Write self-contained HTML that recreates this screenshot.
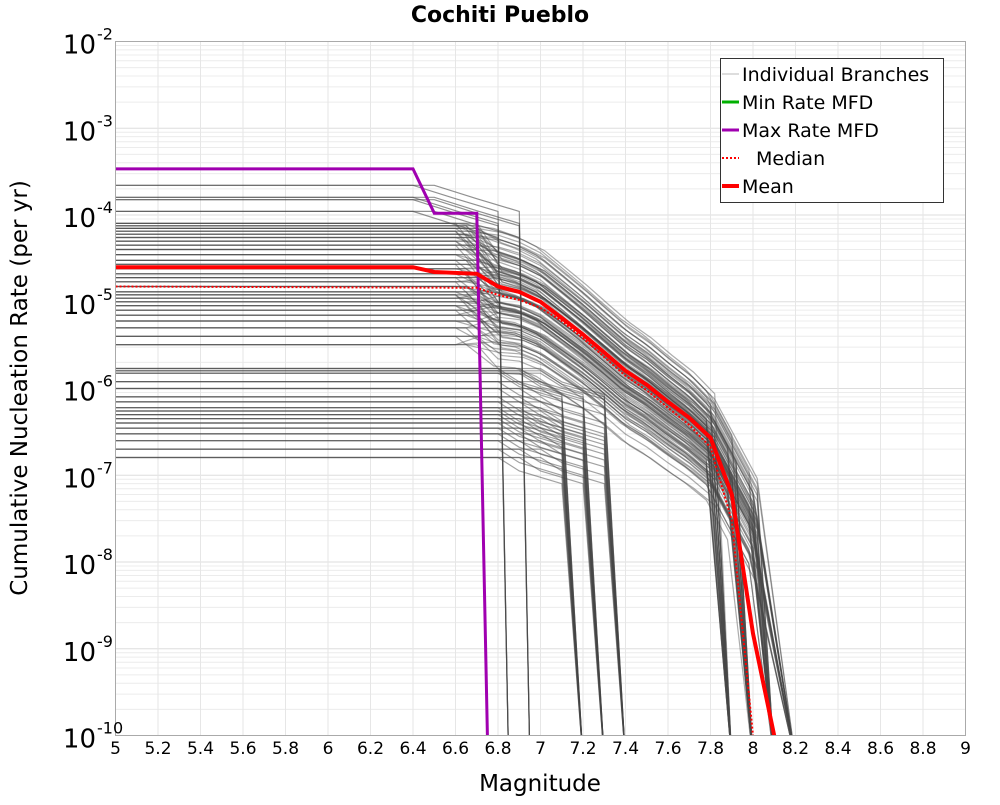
<!DOCTYPE html>
<html><head><meta charset="utf-8"><style>
body{margin:0;background:#fff;font-family:"Liberation Sans",sans-serif}
svg text{font-family:"DejaVu Sans","Liberation Sans",sans-serif}
</style></head><body>
<svg id="chart" width="1000" height="800" xmlns="http://www.w3.org/2000/svg">
<defs><clipPath id="pc"><rect x="115.5" y="41.5" width="850" height="694"/></clipPath></defs>
<text x="500" y="22" text-anchor="middle" font-size="22" font-weight="bold">Cochiti Pueblo</text>
<text x="540" y="791" text-anchor="middle" font-size="23">Magnitude</text>
<text transform="translate(27,388) rotate(-90)" text-anchor="middle" font-size="23">Cumulative Nucleation Rate (per yr)</text>
<g id="grid"></g>
<g id="branches" clip-path="url(#pc)"></g>
<g id="main" clip-path="url(#pc)"></g>
<rect x="115.5" y="41.5" width="850" height="694" fill="none" stroke="#aaa"/>
<g id="ticks"></g>
<g id="legend">
<rect x="720.5" y="58.5" width="223" height="144" fill="#fff" stroke="#333"/>
</g>
</svg>
<script>
// ---- data ----
const xTicks=[5,5.2,5.4,5.6,5.8,6,6.2,6.4,6.6,6.8,7,7.2,7.4,7.6,7.8,8,8.2,8.4,8.6,8.8,9];
const yExps=[-2,-3,-4,-5,-6,-7,-8,-9,-10];
const meanMags=[5.0,6.4,6.5,6.7,6.8,6.9,7.0,7.1,7.2,7.3,7.4,7.5,7.6,7.7,7.8,7.9,8.0,8.1];
const meanRates=[2.5e-5,2.5e-5,2.2e-5,2.1e-5,1.5e-5,1.3e-5,1.0e-5,6.5e-6,4.2e-6,2.6e-6,1.6e-6,1.1e-6,7e-7,4.6e-7,2.7e-7,6e-8,1.5e-9,1e-10];
const medianMags=[5.0,6.7,6.8,6.9,7.0,7.1,7.2,7.3,7.4,7.5,7.6,7.7,7.8,7.9,8.0];
const medianRates=[1.5e-5,1.45e-5,1.2e-5,1.05e-5,8.5e-6,6e-6,3.8e-6,2.3e-6,1.4e-6,9.5e-7,6e-7,3.8e-7,2.1e-7,3e-8,1e-10];
const maxMags=[5.0,6.4,6.5,6.7,6.75];
const maxRates=[3.4e-4,3.4e-4,1.05e-4,1.05e-4,1e-10];
const mainLevels=[8e-5,7.5e-5,7e-5,6.5e-5,6e-5,5.5e-5,5e-5,4.5e-5,4e-5,3.5e-5,3e-5,2.7e-5,2.4e-5,2.1e-5,1.9e-5,1.7e-5,1.5e-5,1.3e-5,1.2e-5,1.1e-5,1e-5,9e-6,8e-6,7e-6,6e-6,5e-6,4e-6,3.2e-6];
const mainEnds=[7.9,8.0,8.1,8.2];
const spread=[1,1,0.9,0.85,0.8,0.78,0.75,0.72,0.7,0.7,0.68,0.66,0.64,0.6,0.6,0.6];
const lowLevels=[1.7e-6,1.6e-6,1.5e-6,1.2e-6,1e-6,8e-7,7e-7,6e-7,5.5e-7,5e-7,4.5e-7,4e-7,3.5e-7,3e-7,2.5e-7,2e-7,1.6e-7];
const lowEnds=[7.2,7.3,7.4];
const highLevels=[2.2e-4,1.6e-4,1.5e-4,1.1e-4];
const highEnds=[6.85,6.95];
// ---- axes ----
const X=m=>115.5+(m-5)*212.5;
const Y=r=>41.5+(-2-Math.log10(r))*86.75;
const NS="http://www.w3.org/2000/svg";
function mk(tag,attrs,parent){const e=document.createElementNS(NS,tag);for(const k in attrs)e.setAttribute(k,attrs[k]);parent.appendChild(e);return e;}
const grid=document.getElementById('grid'),ticks=document.getElementById('ticks');
for(let e=-10;e<-2;e++)for(let k=1;k<10;k++){const y=Y(k*Math.pow(10,e));
 const l=mk('line',{x1:115.5,x2:965.5,y1:y,y2:y,stroke:k==1?'#ddd':'#ececec','stroke-width':1},grid);
 
 }
xTicks.forEach(t=>{const x=X(t);
 const l=mk('line',{x1:x,x2:x,y1:41.5,y2:735.5,stroke:'#e6e6e6'},grid);
 
 
 const tx=mk('text',{x:x,y:754,'text-anchor':'middle','font-size':17},ticks);tx.textContent=String(t);
 
 });
yExps.forEach(e=>{const y=Y(Math.pow(10,e));
 const tx=mk('text',{x:96,y:y+12,'text-anchor':'end','font-size':26},ticks);tx.textContent='10';
 
 
 const s=mk('text',{x:97,y:y-2,'font-size':16},ticks);s.textContent=String(e);
 
 });
function clipPt(m,r){return X(m).toFixed(1)+','+Math.min(Y(Math.max(r,1e-11)),760).toFixed(1);}
const bg=document.getElementById('branches');
function branch(pts,op){const p=mk('polyline',{points:pts.join(' '),fill:'none',stroke:'rgba(70,70,70,'+op+')','stroke-width':1.2},bg);
 
 }
// main cluster
const meanAt=m=>{for(let i=0;i<meanMags.length-1;i++)if(m<=meanMags[i+1]+1e-9){const f=(m-meanMags[i])/(meanMags[i+1]-meanMags[i]);return Math.pow(10,Math.log10(meanRates[i])*(1-f)+Math.log10(meanRates[i+1])*f);}return 1e-10;};
const flatMean=meanRates[0];
mainLevels.forEach((lv,i)=>{mainEnds.forEach((en,j)=>{
 const pts=[clipPt(5,lv),clipPt(6.6+((i+j)%3)*0.05,lv)];const d=Math.log10(lv/flatMean);
 for(let s=3;s<spread.length;s++){const m=6.5+s*0.1;if(m>en-0.05)break;
  const base=m<7.8?meanAt(m):meanAt(7.8)*Math.pow(0.35,(m-7.8)*10);
  pts.push(clipPt(m+((i+j)%3-1)*0.02,base*Math.pow(10,d*spread[s]+((i*7+j*3)%5-2)*0.12)));}
 pts.push(clipPt(en,1e-11));branch(pts,0.45);});});
// low cluster
lowLevels.forEach((lv,i)=>{lowEnds.forEach((en,j)=>{
 const pts=[clipPt(5,lv),clipPt(6.8+j*0.1,lv),clipPt(6.9+j*0.1,lv*0.7),clipPt(en-0.1,lv*0.5),clipPt(en,1e-11)];branch(pts,0.5);});});
// high cluster
highLevels.forEach((lv,i)=>{highEnds.forEach((en,j)=>{
 const pts=[clipPt(5,lv),clipPt(6.4+j*0.1,lv),clipPt(6.6+j*0.1,lv*0.7),clipPt(en-0.05,lv*0.5),clipPt(en,1e-11)];branch(pts,0.6);});});
// summary lines
const mg=document.getElementById('main');
function line(ms,rs,color,w,dash,name){const p=mk('polyline',{points:ms.map((m,i)=>clipPt(m,rs[i])).join(' '),fill:'none',stroke:color,'stroke-width':w},mg);
 if(dash)p.setAttribute('stroke-dasharray',dash);
 
 }
line(maxMags,maxRates,'#a000b0',3,null,'max-rate-mfd');
line(medianMags,medianRates,'#ff0000',2,'2,2','median-line');
line(meanMags,meanRates,'#ff0000',4,null,'mean-line');
// legend
const lg=document.getElementById('legend');
const entries=[['Individual Branches','#bbb',1,null],['Min Rate MFD','#00b000',3,null],['Max Rate MFD','#a000b0',3,null],['Median','#ff0000',2,'2,2'],['Mean','#ff0000',4,null]];
entries.forEach((e,i)=>{const y=74+i*28;
 const l=mk('line',{x1:722,x2:739,y1:y,y2:y,stroke:e[1],'stroke-width':e[2]},lg);if(e[3])l.setAttribute('stroke-dasharray',e[3]);
 
 
 const t=mk('text',{x:i==3?756:742,y:y+7,'font-size':19},lg);t.textContent=e[0];
 
 });
</script>
</body></html>
